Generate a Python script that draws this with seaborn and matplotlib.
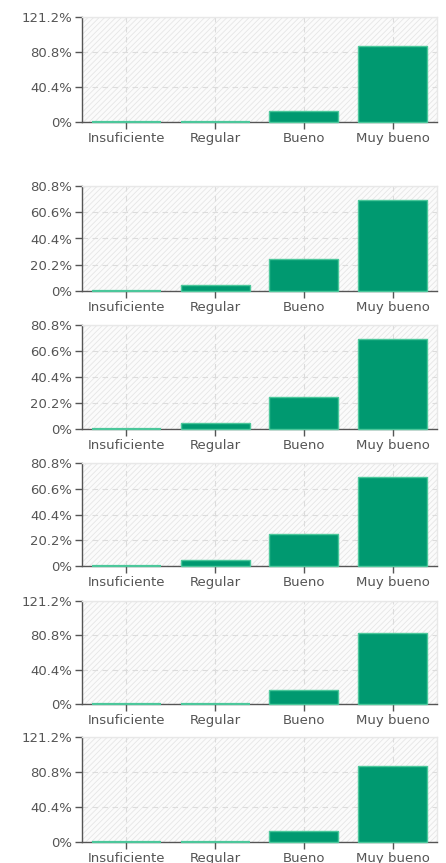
import matplotlib
matplotlib.use("Agg")
import matplotlib.pyplot as plt
import seaborn as sns
import pandas as pd
from matplotlib.patches import Rectangle

categories = ["Insuficiente", "Regular", "Bueno", "Muy bueno"]

# percentage per category, one list per panel (top to bottom)
panel1 = [0, 0, 12.5, 87.5]
panel2 = [0, 5, 25, 70]
panel3 = [0, 5, 25, 70]
panel4 = [0, 5, 25, 70]
panel5 = [0, 0, 16.7, 83.3]
panel6 = [0, 0, 12.5, 87.5]

# y tick values per panel
ticks_high = [0, 40.4, 80.8, 121.2]
ticks_low = [0, 20.2, 40.4, 60.6, 80.8]

panels = [panel1, panel2, panel3, panel4, panel5, panel6]
panel_ticks = [ticks_high, ticks_low, ticks_low, ticks_low, ticks_high, ticks_high]

BAR = "#009970"
EDGE = "#4cc79b"
TEXT = "#555555"

sns.set_theme(style="white")
plt.rcParams["font.family"] = ["DejaVu Sans"]
plt.rcParams["hatch.color"] = "#e6e6e6"
plt.rcParams["hatch.linewidth"] = 0.6

W, H = 446, 863
fig = plt.figure(figsize=(W / 100, H / 100), dpi=100)

# pixel top / bottom of each plot area
tops = [17, 186, 325, 463, 601, 737]
bottoms = [122, 291, 429, 566, 704, 842]
left, right = 82, 437


def fmt_pct(v):
    return "0%" if v == 0 else f"{v:.1f}%"


for vals, ticks, top, bot in zip(panels, panel_ticks, tops, bottoms):
    ax = fig.add_axes([left / W, 1 - bot / H, (right - left) / W, (bot - top) / H])
    ax.set_facecolor("#fbfbfb")
    ax.add_patch(Rectangle((0, 0), 1, 1, transform=ax.transAxes, facecolor="none",
                           edgecolor="#e6e6e6", hatch="//////", linewidth=0, zorder=0))

    df = pd.DataFrame({"categoria": categories, "pct": vals})
    sns.barplot(data=df, x="categoria", y="pct", color=BAR, saturation=1,
                width=0.78, edgecolor=EDGE, linewidth=1.0, ax=ax, zorder=3)
    # let the empty bars show as a thin line over the axis
    for p in ax.patches:
        if isinstance(p, Rectangle) and p.get_hatch() is None:
            p.set_clip_on(False)
            if p.get_height() == 0:
                p.set_linewidth(1.6)

    ax.set_ylim(0, ticks[-1])
    ax.set_yticks(ticks)
    ax.set_yticklabels([fmt_pct(t) for t in ticks])
    ax.set_xlabel("")
    ax.set_ylabel("")

    ax.grid(True, color="#dcdcdc", linestyle=(0, (5, 4)), linewidth=0.8, zorder=1)
    ax.set_axisbelow(True)

    for s in ["top", "right"]:
        ax.spines[s].set_color("#e8e8e8")
        ax.spines[s].set_linewidth(1)
    for s in ["left", "bottom"]:
        ax.spines[s].set_color("#555555")
        ax.spines[s].set_linewidth(1)

    ax.tick_params(axis="both", which="major", direction="out", length=5, width=1,
                   color="#555555", labelcolor=TEXT, labelsize=9.5, pad=2,
                   left=True, bottom=True)

fig.savefig("out.png", dpi=100)
